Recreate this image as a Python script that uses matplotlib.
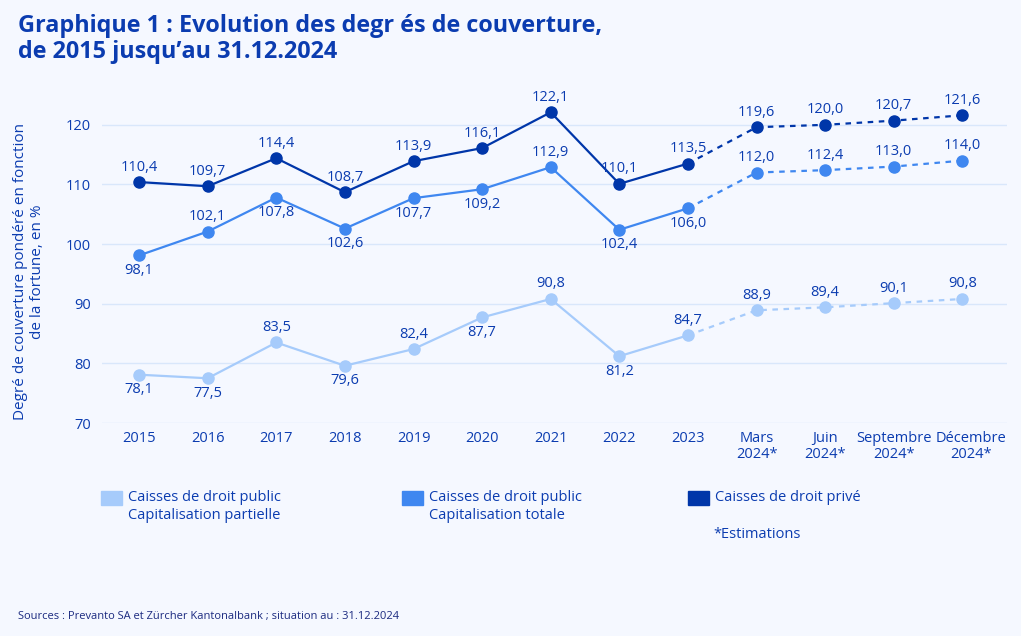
import matplotlib
matplotlib.use("Agg")
import matplotlib.pyplot as plt
from matplotlib.patches import Rectangle
from matplotlib.transforms import ScaledTranslation

# ---- data -----------------------------------------------------------------
categories = ["2015", "2016", "2017", "2018", "2019", "2020", "2021", "2022",
              "2023", "Mars\n2024*", "Juin\n2024*", "Septembre\n2024*",
              "Décembre\n2024*"]
public_partial = [78.1, 77.5, 83.5, 79.6, 82.4, 87.7, 90.8, 81.2, 84.7,
                  88.9, 89.4, 90.1, 90.8]
public_total = [98.1, 102.1, 107.8, 102.6, 107.7, 109.2, 112.9, 102.4, 106.0,
                112.0, 112.4, 113.0, 114.0]
private = [110.4, 109.7, 114.4, 108.7, 113.9, 116.1, 122.1, 110.1, 113.5,
           119.6, 120.0, 120.7, 121.6]
# +1 label above the point, -1 below
pos_partial = [-1, -1, 1, -1, 1, -1, 1, -1, 1, 1, 1, 1, 1]
pos_total = [-1, 1, -1, -1, -1, -1, 1, -1, -1, 1, 1, 1, 1]
pos_private = [1] * 13
n_actual = 9  # 2015..2023 are observed, the rest are estimates

BG = "#f5f8ff"
TXT = "#0b3cb0"
LIGHT = "#a6cbfb"
MID = "#3f87f0"
DARK = "#0036a9"
GRID = "#d9e7fb"

plt.rcParams["font.family"] = ["Open Sans", "DejaVu Sans"]

fig = plt.figure(figsize=(10.21, 6.36), dpi=100, facecolor=BG)
ax = fig.add_axes([102 / 1021, 1 - 423 / 636, 905 / 1021, 328 / 636])
ax.set_facecolor(BG)

x = list(range(len(categories)))
series = [
    (public_partial, pos_partial, LIGHT),
    (public_total, pos_total, MID),
    (private, pos_private, DARK),
]
for vals, pos, col in series:
    k = n_actual
    ax.plot(x[:k], vals[:k], "-", color=col, lw=1.6, zorder=3)
    ax.plot(x[k - 1:], vals[k - 1:], color=col, lw=1.6, ls=(0, (2.5, 2.5)),
            zorder=3)
    ax.plot(x, vals, "o", color=col, ms=8, zorder=4, clip_on=False)
    for xi, v, p in zip(x, vals, pos):
        ax.annotate(f"{v:.1f}".replace(".", ","), (xi, v),
                    xytext=(0, 10.8 * p), textcoords="offset points",
                    ha="center", va="center", fontsize=10.5, color=TXT)

ax.set_xlim(-0.54, 12.65)
ax.set_ylim(70, 125)
ax.set_yticks([70, 80, 90, 100, 110, 120])
ax.set_xticks(x)
ax.set_xticklabels(categories, linespacing=1.05)
ax.grid(axis="y", color=GRID, lw=1)
ax.set_axisbelow(True)
for s in ax.spines.values():
    s.set_visible(False)
ax.tick_params(length=0, colors=TXT, labelsize=10.5)
ax.tick_params(axis="x", pad=6)
ax.tick_params(axis="y", pad=8)
# the last label sits a little right of its point in the original
last = ax.xaxis.get_major_ticks()[-1].label1
last.set_transform(last.get_transform()
                   + ScaledTranslation(9 / 100, 0, fig.dpi_scale_trans))

fig.text(29 / 1021, 1 - 272 / 636,
         "Degré de couverture pondéré en fonction\nde la fortune, en %",
         rotation=90, ha="center", va="center", fontsize=11, color=TXT,
         linespacing=1.1)

# ---- title ----------------------------------------------------------------
fig.text(18 / 1021, 1 - 14 / 636,
         "Graphique 1 : Evolution des degr és de couverture,\nde 2015 jusqu’au 31.12.2024",
         ha="left", va="top", fontsize=16.8, fontweight="bold", color=TXT,
         linespacing=1.1)

# ---- legend ---------------------------------------------------------------
legend_items = [
    (101, LIGHT, "Caisses de droit public\nCapitalisation partielle"),
    (402, MID, "Caisses de droit public\nCapitalisation totale"),
    (688, DARK, "Caisses de droit privé"),
]
for px, col, label in legend_items:
    fig.patches.append(Rectangle((px / 1021, 1 - 505 / 636), 21 / 1021,
                                 14 / 636, transform=fig.transFigure,
                                 color=col))
    fig.text((px + 27) / 1021, 1 - 490 / 636, label, ha="left", va="top",
             fontsize=10.5, color=TXT, linespacing=1.25)
fig.text(713 / 1021, 1 - 535 / 636, "*Estimations", ha="left", va="center",
         fontsize=10.5, color=TXT)

fig.text(18 / 1021, 1 - 617 / 636,
         "Sources : Prevanto SA et Zürcher Kantonalbank ; situation au : 31.12.2024",
         ha="left", va="center", fontsize=8, color="#1b2a80")

fig.savefig("out.png", dpi=100, facecolor=BG)
